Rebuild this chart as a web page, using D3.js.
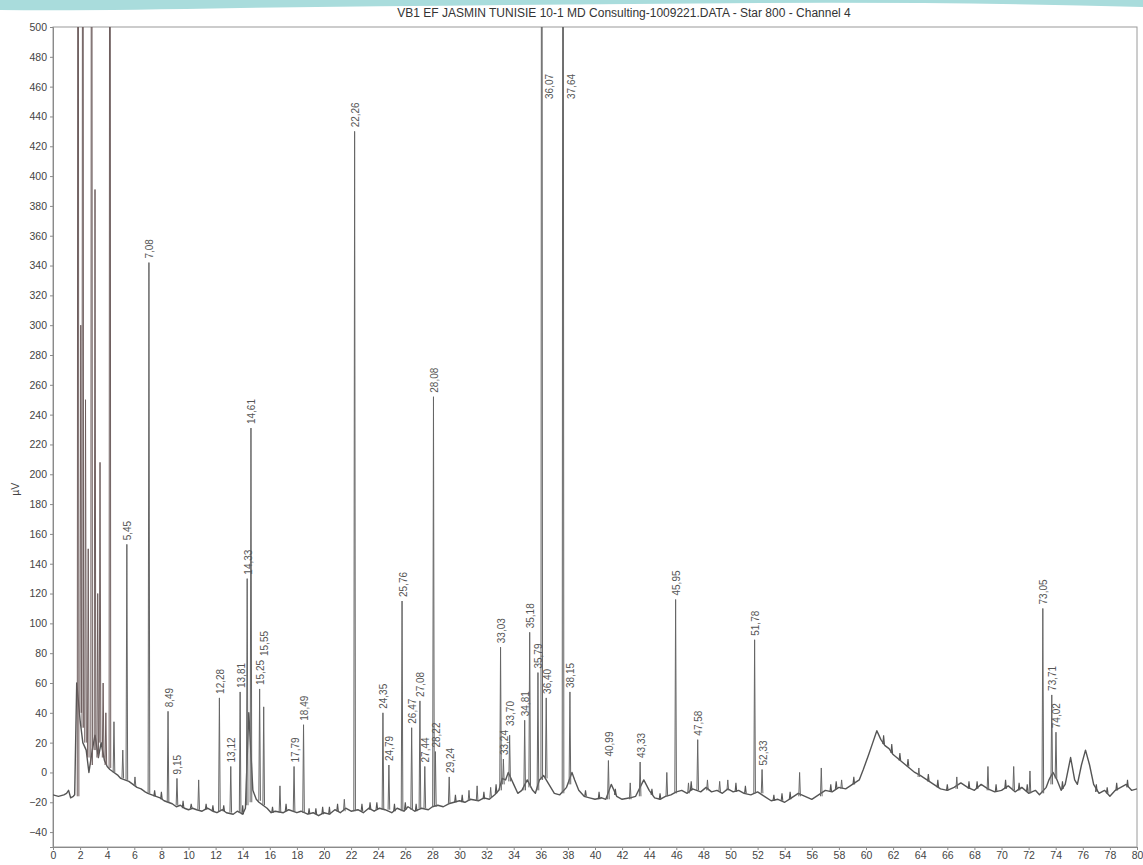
<!DOCTYPE html>
<html>
<head>
<meta charset="utf-8">
<script src="https://cdn.jsdelivr.net/npm/d3@7/dist/d3.min.js"></script>
<style>
  body { margin: 0; background: #fff; }
  svg { display: block; font-family: Arial, "Liberation Sans", sans-serif; }
  .axis path, .axis line { stroke: #8a8a8a; }
  .axis text { fill: #444; font-size: 10.5px; }
</style>
</head>
<body>
<svg id="chrom" width="1143" height="865"></svg>
<script>
const title = 'VB1 EF JASMIN TUNISIE 10-1 MD Consulting-1009221.DATA - Star 800  - Channel 4';

// baseline / lower envelope of the trace, [time min, µV]
const baseline = [
  [0, -15], [0.4, -16], [0.8, -15], [1.0, -14], [1.15, -12], [1.3, -17], [1.5, -16], [1.6, -15],
  [1.75, 60], [2.0, 35], [2.2, 20], [2.45, 15], [2.65, 0], [2.9, 15], [3.1, 25], [3.35, 10],
  [3.55, 20], [3.8, 8], [4.0, 4], [4.2, 2], [4.5, 0], [4.8, -2], [5.0, -4], [5.3, -5],
  [5.6, -6], [5.9, -8], [6.2, -10], [6.5, -11], [6.8, -13], [7.0, -14], [7.3, -15], [7.6, -16],
  [7.9, -17], [8.2, -19], [8.5, -20], [8.8, -21], [9.1, -23], [9.4, -22], [9.7, -24], [10.0, -25],
  [10.3, -24], [10.6, -25], [11.0, -26], [11.4, -24], [11.8, -26], [12.1, -27], [12.5, -25], [12.8, -27],
  [13.3, -28], [13.6, -26], [14.0, -28], [14.2, -24], [14.45, 40], [14.75, -12], [15.0, -18], [15.2, -20],
  [15.8, -24], [16.1, -27], [16.4, -26], [17.0, -27], [17.4, -25], [18.0, -27], [18.3, -26], [18.8, -28],
  [19.2, -27], [19.6, -29], [20.0, -27], [20.4, -28], [20.8, -25], [21.2, -27], [21.6, -24], [22.0, -26],
  [22.5, -25], [22.9, -27], [23.3, -24], [23.7, -26], [24.1, -24], [24.5, -25], [25.0, -27], [25.4, -24],
  [25.9, -26], [26.2, -23], [26.7, -26], [27.2, -24], [27.7, -25], [28.0, -23], [28.4, -22], [28.8, -23],
  [29.2, -21], [29.6, -20], [30.0, -19], [30.4, -20], [30.8, -18], [31.4, -19], [31.8, -17], [32.2, -18],
  [32.6, -15], [32.9, -12], [33.15, -4], [33.4, -5], [33.6, 0], [34.0, -8], [34.3, -14], [34.6, -12],
  [35.0, -5], [35.4, -12], [35.6, -14], [35.9, -5], [36.2, -2], [36.6, -8], [37.0, -14], [37.4, -15],
  [37.9, -10], [38.3, 0], [38.5, -5], [38.8, -12], [39.2, -16], [39.6, -17], [40.0, -18], [40.5, -17],
  [40.8, -18], [41.2, -8], [41.6, -16], [42.0, -18], [42.6, -17], [43.0, -16], [43.6, -5], [44.0, -12],
  [44.4, -17], [44.8, -18], [45.2, -16], [45.6, -15], [46.0, -13], [46.4, -12], [46.8, -14], [47.2, -11],
  [47.8, -13], [48.2, -10], [48.6, -13], [49.0, -12], [49.4, -14], [49.8, -11], [50.2, -13], [50.6, -12],
  [51.0, -14], [51.5, -15], [52.0, -13], [52.5, -16], [53.0, -19], [53.5, -18], [54.0, -20], [54.5, -17],
  [55.0, -14], [55.5, -16], [56.0, -18], [56.5, -15], [57.0, -12], [57.5, -13], [58.0, -10], [58.5, -11],
  [59.0, -8], [59.5, -5], [59.8, 2], [60.2, 12], [60.5, 20], [60.8, 28], [61.1, 22], [61.4, 18],
  [61.7, 16], [62.0, 12], [62.4, 9], [62.8, 6], [63.2, 3], [63.6, 0], [64.0, -2], [64.5, -5],
  [65.0, -8], [65.5, -11], [66.0, -12], [66.5, -10], [67.0, -7], [67.5, -10], [68.0, -12], [68.5, -8],
  [69.0, -11], [69.5, -13], [70.0, -12], [70.5, -9], [71.0, -13], [71.5, -10], [72.0, -14], [72.5, -12],
  [72.8, -15], [73.3, -10], [73.5, -5], [73.8, 0], [74.1, -5], [74.4, -12], [74.7, -8], [75.1, 10],
  [75.4, -5], [75.6, -8], [75.9, 5], [76.2, 15], [76.5, 5], [76.8, -8], [77.2, -14], [77.6, -12],
  [78.0, -16], [78.4, -12], [78.8, -10], [79.2, -8], [79.6, -12], [80.0, -11]
];

// labelled peaks: [retention time, apex µV, foot µV]; apex 1000 = off scale
const labelledPeaks = [
  [5.45, 153, -5], [7.08, 342, -14], [8.49, 41, -20], [9.15, -4, -22],
  [12.28, 50, -26], [13.12, 4, -27], [13.81, 54, -27], [14.33, 130, -22],
  [14.61, 231, -20], [15.25, 56, -19], [15.55, 44, -22], [17.79, 4, -26],
  [18.49, 32, -27], [22.26, 430, -26], [24.35, 40, -25], [24.79, 5, -25],
  [25.76, 115, -26], [26.47, 30, -25], [27.08, 48, -24], [27.44, 4, -24],
  [28.08, 252, -23], [28.22, 14, -23], [29.24, -3, -21], [33.03, 84, -12],
  [33.24, 9, -8], [33.70, 25, -6], [34.81, 35, -12], [35.18, 94, -10],
  [35.79, 67, -12], [36.07, 1000, -5], [36.40, 50, -4], [37.64, 1000, -14],
  [38.15, 54, -8], [40.99, 8, -18], [43.33, 7, -16], [45.95, 116, -14],
  [47.58, 22, -12], [51.78, 89, -14], [52.33, 2, -14], [73.05, 110, -14],
  [73.71, 52, -8], [74.02, 27, -4]
];

// peaks without a label
const otherPeaks = [
  [1.85, 1000, -16], [2.05, 300, 40], [2.2, 1000, 30], [2.4, 250, 20], [2.6, 150, 10],
  [2.85, 1000, 5], [3.1, 391, 15], [3.3, 120, 10], [3.47, 208, 20], [3.7, 60, 10],
  [3.9, 40, 5], [4.2, 1000, 3], [4.5, 34, 0], [5.15, 15, -4], [6.05, -3, -9],
  [10.75, -5, -25], [16.75, -9, -27], [21.5, -18, -26], [30.7, -12, -19], [31.3, -9, -19],
  [32.3, -10, -17], [42.6, -7, -18], [45.3, 0, -16], [46.9, -7, -14], [48.3, -5, -12],
  [49.2, -6, -13], [49.8, -5, -12], [55.1, 0, -16], [56.7, 3, -16], [58.2, -5, -11],
  [63.9, 3, -3], [66.7, -3, -11], [69.0, 4, -12], [70.9, 4, -12], [72.1, 1, -14]
];

// small noise blips on the baseline
const noiseBlips = [
  [7.5, -12, -16], [8.0, -13, -18], [9.6, -19, -24], [10.2, -21, -24], [11.3, -21, -25],
  [11.8, -22, -26], [12.6, -22, -26], [14.0, -22, -28], [16.2, -23, -27], [17.2, -21, -26],
  [18.9, -24, -28], [19.4, -24, -28], [19.9, -23, -28], [20.4, -23, -28], [21.0, -21, -26],
  [22.8, -21, -26], [23.4, -20, -25], [23.9, -20, -25], [25.2, -21, -26], [26.0, -20, -25],
  [26.8, -21, -26], [29.7, -15, -20], [30.2, -15, -20], [31.8, -13, -18], [32.7, -8, -14],
  [39.3, -12, -16], [40.3, -13, -18], [41.5, -11, -15], [44.2, -11, -15], [44.8, -14, -18],
  [47.1, -6, -12], [50.4, -7, -13], [51.1, -9, -14], [53.2, -15, -19], [53.8, -14, -19],
  [54.4, -13, -18], [57.4, -8, -13], [57.8, -6, -11], [59.1, -3, -8], [61.3, 25, 19],
  [61.9, 19, 13], [62.5, 13, 8], [63.1, 9, 4], [64.6, -1, -6], [65.3, -5, -10],
  [66.0, -8, -12], [67.6, -6, -11], [68.2, -6, -11], [69.6, -8, -13], [70.3, -5, -11],
  [71.3, -7, -12], [71.9, -8, -13], [74.5, -6, -11], [77.0, -8, -13], [77.8, -10, -14],
  [78.5, -7, -12], [79.3, -5, -10]
];

const xTicks = d3.range(0, 81, 2);
const yTicks = d3.range(-40, 501, 20);

const svg = d3.select('#chrom'),
  margin = { top: 27, right: 6, bottom: 18, left: 53 };
const outer = { width: +svg.attr('width'), height: +svg.attr('height') };
const inner = {
  width: outer.width - margin.left - margin.right,
  height: outer.height - margin.top - margin.bottom
};

// scan banner at the top edge
svg.append('path')
  .attr('d', 'M0,0 L1143,0 L1143,7 Q960,2 760,3 Q480,5 240,8 Q90,11 0,10 Z')
  .attr('fill', '#a9dcdc');

svg.append('text')
  .attr('x', 624)
  .attr('y', 17)
  .attr('text-anchor', 'middle')
  .attr('fill', '#333')
  .style('font-size', '12px')
  .text(title);

const g = svg.append('g')
  .attr('transform', `translate(${margin.left},${margin.top})`);

const x = d3.scaleLinear().domain([0, 80]).range([0, inner.width]);
const y = d3.scaleLinear().domain([-50, 500]).range([inner.height, 0]);

g.append('defs').append('clipPath')
  .attr('id', 'plot-clip')
  .append('rect')
  .attr('width', inner.width)
  .attr('height', inner.height);

// frame
g.append('rect')
  .attr('width', inner.width)
  .attr('height', inner.height)
  .attr('fill', 'none')
  .attr('stroke', '#9a9a9a');

g.append('g')
  .attr('class', 'axis axis--x')
  .attr('transform', 'translate(0,' + inner.height + ')')
  .call(d3.axisBottom(x).tickValues(xTicks).tickSize(3).tickPadding(2));

g.append('g')
  .attr('class', 'axis axis--y')
  .call(d3.axisLeft(y).tickValues(yTicks).tickSize(3).tickPadding(3))
  .append('text')
  .attr('transform', 'rotate(-90)')
  .attr('x', -y(190))
  .attr('y', -34)
  .attr('text-anchor', 'middle')
  .attr('fill', '#444')
  .text('µV');

const trace = g.append('g').attr('clip-path', 'url(#plot-clip)');

const line = d3.line()
  .x(d => x(d[0]))
  .y(d => y(d[1]));

trace.append('path')
  .attr('d', line(baseline))
  .attr('fill', 'none')
  .attr('stroke', '#555')
  .attr('stroke-width', 1.4)
  .attr('stroke-linejoin', 'round');

const hw = 0.06;
const spike = d => line([[d[0] - hw, d[2]], [d[0], d[1]], [d[0] + hw, d[2]]]);

trace.selectAll('.blip')
  .data(noiseBlips)
  .enter().append('path')
  .attr('class', 'blip')
  .attr('d', spike)
  .attr('fill', 'none')
  .attr('stroke', '#555')
  .attr('stroke-width', 1.1);

trace.selectAll('.peak')
  .data(otherPeaks.concat(labelledPeaks))
  .enter().append('path')
  .attr('class', 'peak')
  .attr('d', spike)
  .attr('fill', 'none')
  .attr('stroke', d => d[0] < 4.3 ? '#6e5e5e' : '#666')
  .attr('stroke-width', 1);

// label placement: above the apex, stacked over a close neighbour's label
const fmt = d3.format('.2f');
const labelLen = 26;
let prev = null;
const placed = labelledPeaks.map(d => {
  const px = x(d[0]);
  let bottom = d[1] > 500 ? y(500) + 72 : y(d[1]) - 4;
  if (prev && px - prev.px < 9 && bottom > prev.top && bottom - labelLen < prev.bottom) {
    bottom = prev.top - 3;
  }
  const p = { d, px, bottom, top: bottom - labelLen, off: d[1] > 500 };
  prev = p;
  return p;
});

g.selectAll('.plabel')
  .data(placed)
  .enter().append('text')
  .attr('class', 'plabel')
  .attr('transform', p => `translate(${p.px + (p.off ? 8 : 1)},${p.bottom}) rotate(-90)`)
  .attr('dy', '0.35em')
  .attr('fill', '#555')
  .style('font-size', '10px')
  .text(p => fmt(p.d[0]).replace('.', ','));
</script>
</body>
</html>
